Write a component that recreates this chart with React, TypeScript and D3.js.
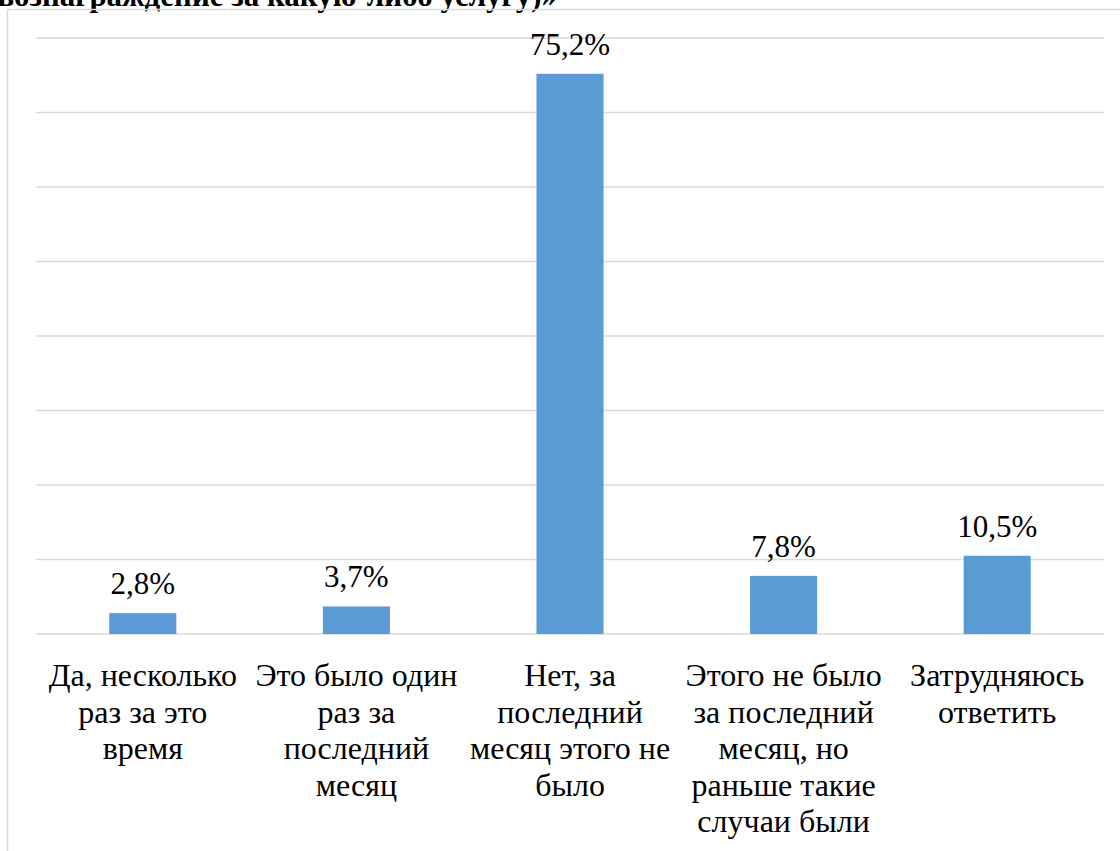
import React from "react";
import * as d3 from "d3";

const categories: string[][] = [
  ["Да, несколько", "раз за это", "время"],
  ["Это было один", "раз за", "последний", "месяц"],
  ["Нет, за", "последний", "месяц этого не", "было"],
  ["Этого не было", "за последний", "месяц, но", "раньше такие", "случаи были"],
  ["Затрудняюсь", "ответить"],
];
const values: number[] = [2.8, 3.7, 75.2, 7.8, 10.5];
const valueLabels: string[] = ["2,8%", "3,7%", "75,2%", "7,8%", "10,5%"];
const gridTicks: number[] = [0, 10, 20, 30, 40, 50, 60, 70, 80];
const titleTail = "вознаграждение за какую-либо услугу)»";

const W = 1120;
const H = 851;
const plotLeft = 36;
const plotRight = 1104;
const plotTop = 38;
const plotBottom = 634;
const font = "Liberation Serif";

export default function App() {
  const x = d3
    .scaleBand<number>()
    .domain(values.map((_, i) => i))
    .range([plotLeft, plotRight])
    .paddingInner(0.686)
    .paddingOuter(0.343);
  const xc = d3
    .scaleBand<number>()
    .domain(values.map((_, i) => i))
    .range([plotLeft, plotRight]);
  const y = d3.scaleLinear().domain([0, 80]).range([plotBottom, plotTop]);
  const cx = (i: number) => (xc(i) as number) + xc.bandwidth() / 2;

  return (
    <svg
      width={W}
      height={H}
      style={{ position: "absolute", left: 0, top: 0 }}
    >
      <style>{`.sf { font-family: "Liberation Serif", "Times New Roman", serif; }`}</style>
      <text className="sf" x={557} y={6} textAnchor="end" fontSize={31} fontWeight="bold" fill="#000" fontFamily={font}>
        {titleTail}
      </text>
      <line x1={7.5} y1={9.5} x2={W + 5} y2={9.5} stroke="#d9d9d9" strokeWidth={1.5} />
      <line x1={7.5} y1={9.5} x2={7.5} y2={H + 5} stroke="#d9d9d9" strokeWidth={1.5} />
      {gridTicks.map((t) => (
        <line
          key={t}
          x1={plotLeft}
          x2={plotRight}
          y1={y(t)}
          y2={y(t)}
          stroke="#d9d9d9"
          strokeWidth={1.5}
        />
      ))}
      {values.map((v, i) => (
        <rect
          key={i}
          x={x(i)}
          y={y(v)}
          width={x.bandwidth()}
          height={y(0) - y(v)}
          fill="#5b9bd5"
        />
      ))}
      {values.map((v, i) => (
        <text
          key={"v" + i}
          className="sf"
          x={cx(i)}
          y={y(v) - 19}
          textAnchor="middle"
          fontSize={31}
          fill="#000"
          fontFamily={font}
        >
          {valueLabels[i]}
        </text>
      ))}
      {categories.map((lines, i) => (
        <text
          key={"c" + i}
          className="sf"
          x={cx(i)}
          y={686}
          textAnchor="middle"
          fontSize={32}
          fill="#000"
          fontFamily={font}
        >
          {lines.map((l, j) => (
            <tspan key={j} x={cx(i)} y={686 + j * 36.5}>
              {l}
            </tspan>
          ))}
        </text>
      ))}
    </svg>
  );
}
